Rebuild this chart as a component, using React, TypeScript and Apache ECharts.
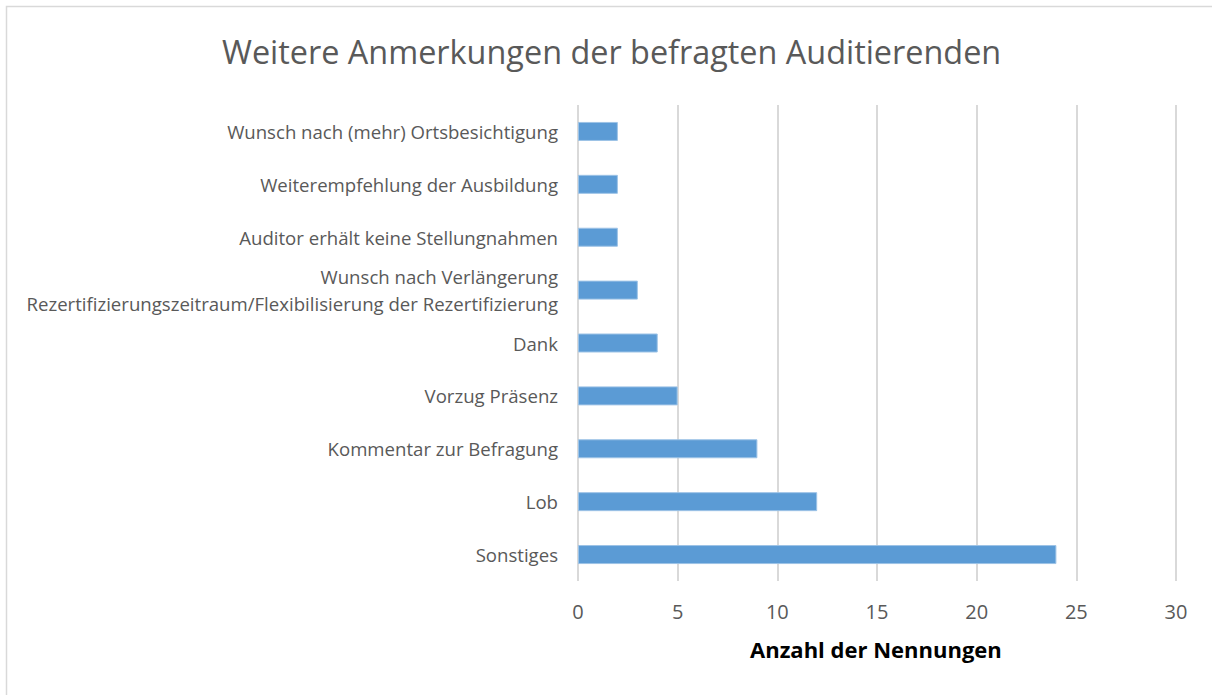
import React, { useEffect, useRef } from "react";
import * as echarts from "echarts";

const categories = [
  "Sonstiges",
  "Lob",
  "Kommentar zur Befragung",
  "Vorzug Präsenz",
  "Dank",
  "Wunsch nach Verlängerung\nRezertifizierungszeitraum/Flexibilisierung der Rezertifizierung",
  "Auditor erhält keine Stellungnahmen",
  "Weiterempfehlung der Ausbildung",
  "Wunsch nach (mehr) Ortsbesichtigung",
];
const values = [24, 12, 9, 5, 4, 3, 2, 2, 2];
const title = "Weitere Anmerkungen der befragten Auditierenden";
const axisName = "Anzahl der Nennungen";

export default function App() {
  const ref = useRef<HTMLDivElement>(null);
  useEffect(() => {
    const chart = echarts.init(ref.current!, null, { renderer: "svg" });
    const font = "'Open Sans', 'Noto Sans', sans-serif";
    chart.setOption({
      animation: false,
      backgroundColor: "#ffffff",
      title: {
        text: title,
        left: 217,
        top: 30,
        textStyle: { fontFamily: font, fontSize: 32.4, fontWeight: "normal", color: "#595959" },
      },
      graphic: [
        {
          type: "rect",
          shape: { x: 6.5, y: 6.5, width: 1240, height: 720 },
          style: { fill: "none", stroke: "#d9d9d9", lineWidth: 1.5 },
          silent: true,
        },
        {
          type: "text",
          left: 750,
          top: 638,
          style: { text: axisName, fontFamily: font, fontSize: 22, fontWeight: "bold", fill: "#000000" },
        },
      ],
      grid: { left: 578, right: 36, top: 105, bottom: 114, containLabel: false },
      xAxis: {
        type: "value",
        min: 0,
        max: 30,
        interval: 5,
        axisLine: { show: false },
        axisTick: { show: false },
        axisLabel: { fontFamily: font, fontSize: 20, color: "#595959", margin: 20 },
        splitLine: { show: true, lineStyle: { color: "#d9d9d9", width: 2 } },
      },
      yAxis: {
        type: "category",
        data: categories,
        axisLine: { show: false },
        axisTick: { show: false },
        axisLabel: { fontFamily: font, fontSize: 18.6, color: "#595959", margin: 20, lineHeight: 27, align: "right" },
      },
      series: [
        {
          type: "bar",
          data: values,
          barWidth: 19,
          itemStyle: { color: "#5b9bd5", borderColor: "#9dc3e6", borderWidth: 1 },
        },
      ],
    });
    return () => chart.dispose();
  }, []);
  return <div ref={ref} style={{ position: "absolute", left: 0, top: 0, width: 1212, height: 695 }} />;
}
